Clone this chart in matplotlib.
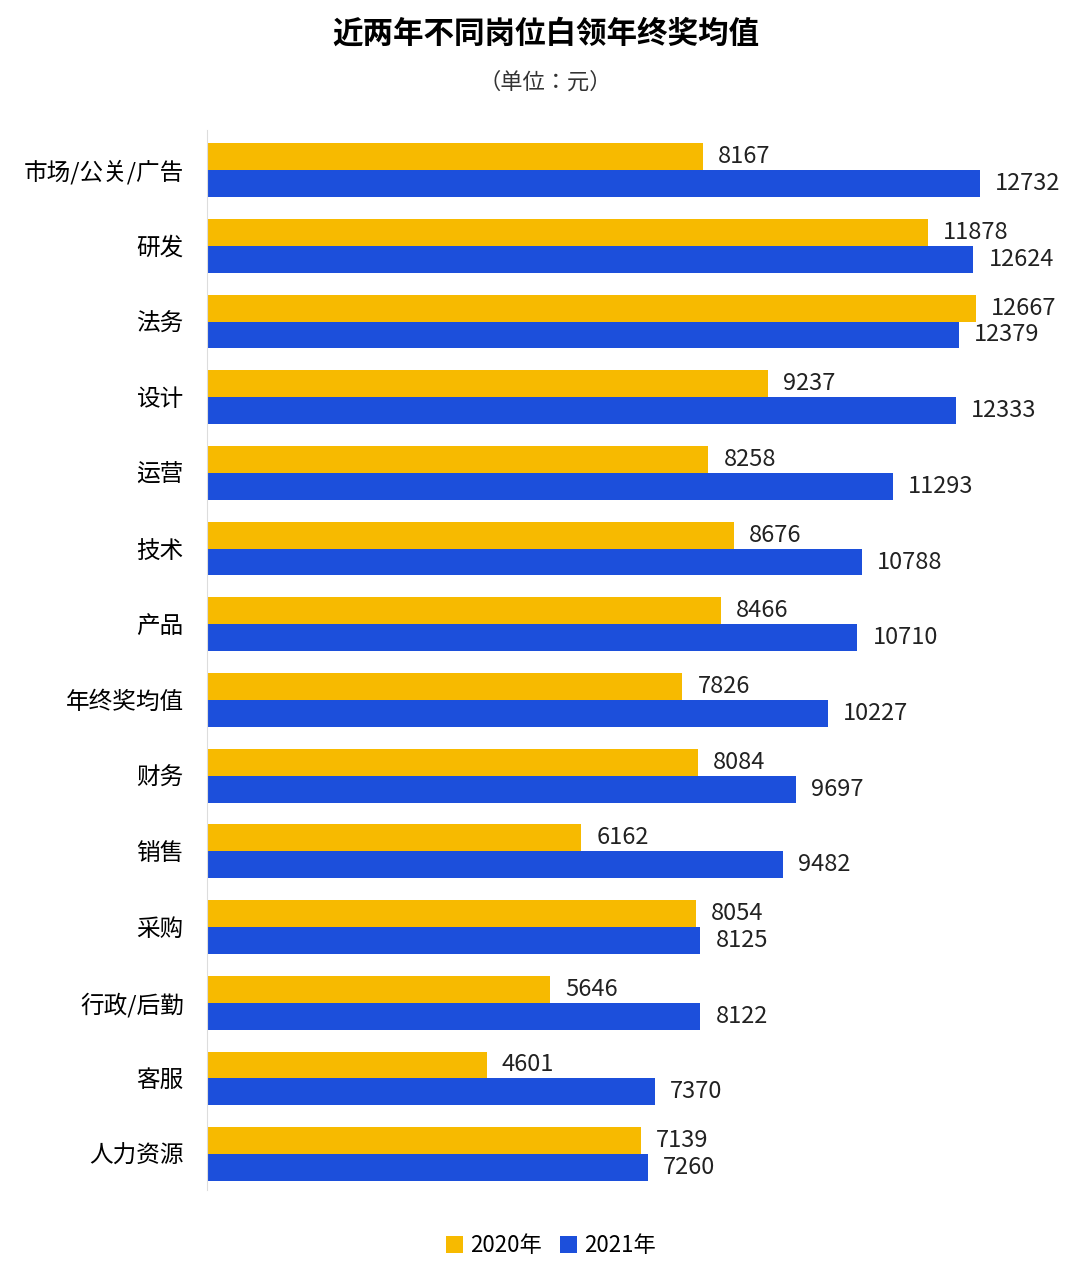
import matplotlib
matplotlib.use("Agg")
import matplotlib.pyplot as plt
from matplotlib import font_manager
import numpy as np

cands = [f for f in font_manager.findSystemFonts() if "CJK" in f or "cjk" in f.lower()]
fam = "Noto Sans CJK SC"
for f in cands:
    try:
        font_manager.fontManager.addfont(f)
    except Exception:
        pass
names = {e.name for e in font_manager.fontManager.ttflist}
for n in ["Noto Sans CJK SC", "Noto Sans CJK JP", "Noto Sans CJK TC", "Noto Sans CJK KR"]:
    if n in names:
        fam = n
        break
plt.rcParams["font.family"] = [fam, "DejaVu Sans"]

categories = ["市场/公关/广告", "研发", "法务", "设计", "运营", "技术", "产品", "年终奖均值",
              "财务", "销售", "采购", "行政/后勤", "客服", "人力资源"]
v2020 = [8167, 11878, 12667, 9237, 8258, 8676, 8466, 7826, 8084, 6162, 8054, 5646, 4601, 7139]
v2021 = [12732, 12624, 12379, 12333, 11293, 10788, 10710, 10227, 9697, 9482, 8125, 8122, 7370, 7260]

c20 = "#F7BA00"
c21 = "#1C4FDB"

fig = plt.figure(figsize=(10.8, 12.66), dpi=100)
ax = fig.add_axes([0.192, 0.06, 0.808, 0.837])
y = np.arange(len(categories))
h = 0.355
ax.barh(y - h / 2, v2020, height=h, color=c20, label="2020年")
ax.barh(y + h / 2, v2021, height=h, color=c21, label="2021年")
for yi, a, b in zip(y, v2020, v2021):
    ax.text(a + 250, yi - h / 2, str(a), va="center", ha="left", fontsize=17, color="#222222")
    ax.text(b + 250, yi + h / 2, str(b), va="center", ha="left", fontsize=17, color="#222222")
ax.set_yticks(y)
ax.set_yticklabels(categories, fontsize=17)
ax.set_ylim(13.475, -0.525)
ax.set_xlim(0, 14380)
ax.set_xticks([])
for s in ["top", "right", "bottom"]:
    ax.spines[s].set_visible(False)
ax.spines["left"].set_color("#dddddd")
ax.tick_params(axis="y", length=0, pad=17)

fig.text(0.505, 0.973, "近两年不同岗位白领年终奖均值", ha="center", va="center", fontsize=22, fontweight="bold")
fig.text(0.505, 0.935, "（单位：元）", ha="center", va="center", fontsize=16, color="#333333")
fig.legend(loc="lower center", bbox_to_anchor=(0.51, -0.009), ncol=2, frameon=False, fontsize=16,
           handlelength=0.8, handleheight=0.8, columnspacing=0.8, handletextpad=0.3)
fig.savefig("out.png")
